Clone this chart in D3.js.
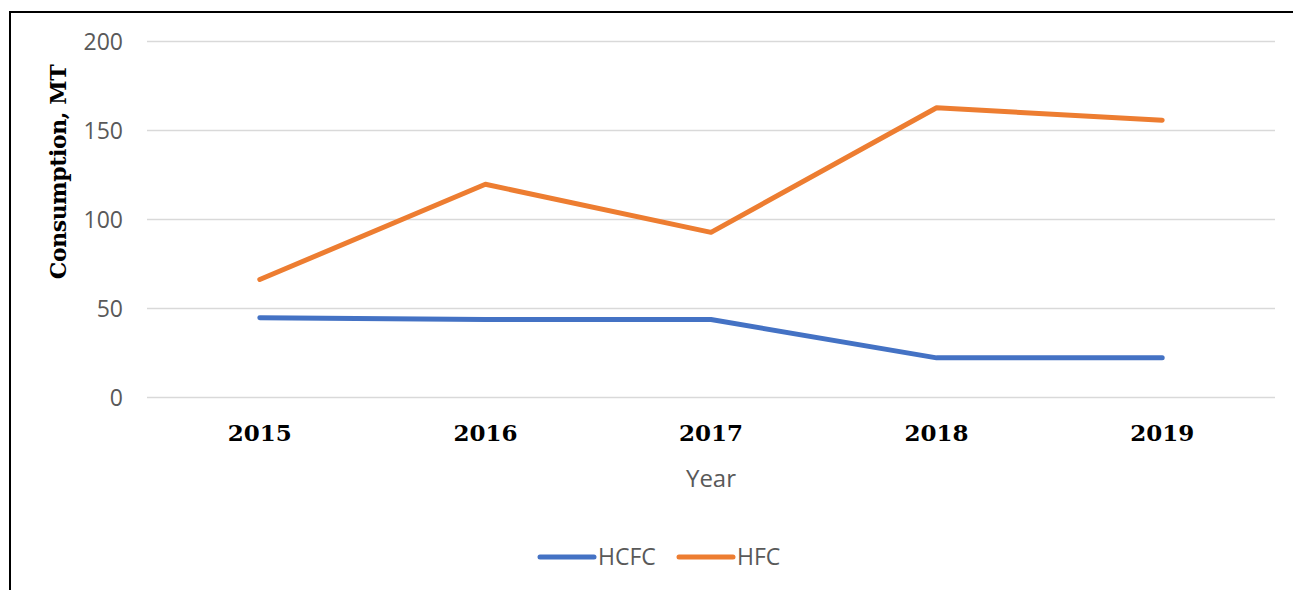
<!DOCTYPE html>
<html>
<head>
<meta charset="utf-8">
<script src="https://cdn.jsdelivr.net/npm/d3@7"></script>
<style>
  body { margin: 0; background: #fff; }
  svg { display: block; }
</style>
</head>
<body>
<div id="chart"></div>
<script>
var years = ["2015", "2016", "2017", "2018", "2019"];
var hcfc = [44.5, 43.5, 43.5, 22, 22];
var hfc = [66, 119.5, 92.5, 162.5, 155.5];
var yTicks = [0, 50, 100, 150, 200];
var seriesNames = ["HCFC", "HFC"];
var seriesColors = ["#4472C4", "#ED7D31"];

var chartWidth = 1293, chartHeight = 590;
var plotLeft = 147, plotRight = 1275, plotTop = 41, plotBottom = 397;

var svg = d3.select("#chart").append("svg")
  .attr("width", chartWidth)
  .attr("height", chartHeight);

// outer frame (only top and left edges show in the picture)
svg.append("rect")
  .attr("x", 10).attr("y", 12)
  .attr("width", 1300).attr("height", 600)
  .attr("fill", "none")
  .attr("stroke", "#000")
  .attr("stroke-width", 2);

var x = d3.scaleBand().domain(years).range([plotLeft, plotRight]);
var y = d3.scaleLinear().domain([0, 200]).range([plotBottom, plotTop]);

// gridlines + y labels
var yAxis = d3.axisLeft(y)
  .tickValues(yTicks)
  .tickSize(-(plotRight - plotLeft))
  .tickPadding(24);

var gy = svg.append("g")
  .attr("transform", "translate(" + plotLeft + ",0)")
  .call(yAxis);
gy.select(".domain").remove();
gy.selectAll(".tick line").attr("stroke", "#d9d9d9").attr("stroke-width", 1.5);
gy.selectAll(".tick text")
  .attr("fill", "#595959")
  .attr("font-family", "'Open Sans', sans-serif")
  .attr("font-size", 23)
  .attr("dy", "0.36em");

// x labels
var xAxis = d3.axisBottom(x).tickSize(0).tickPadding(0);
var gx = svg.append("g")
  .attr("transform", "translate(0," + plotBottom + ")")
  .call(xAxis);
gx.select(".domain").remove();
gx.selectAll(".tick text")
  .attr("fill", "#000")
  .attr("font-family", "'DejaVu Serif', serif")
  .attr("font-weight", "bold")
  .attr("font-size", 23)
  .attr("dy", 44);

// axis titles
svg.append("text")
  .attr("x", (plotLeft + plotRight) / 2)
  .attr("y", 487)
  .attr("text-anchor", "middle")
  .attr("fill", "#595959")
  .attr("font-family", "'Open Sans', sans-serif")
  .attr("font-size", 24)
  .text("Year");

svg.append("text")
  .attr("transform", "translate(66,172) rotate(-90)")
  .attr("text-anchor", "middle")
  .attr("fill", "#000")
  .attr("font-family", "'DejaVu Serif', serif")
  .attr("font-weight", "bold")
  .attr("font-size", 22)
  .attr("letter-spacing", -0.4)
  .text("Consumption, MT");

// lines
var line = d3.line()
  .x(function(d, i) { return x(years[i]) + x.bandwidth() / 2; })
  .y(function(d) { return y(d); });

[hcfc, hfc].forEach(function(values, i) {
  svg.append("path")
    .datum(values)
    .attr("d", line)
    .attr("fill", "none")
    .attr("stroke", seriesColors[i])
    .attr("stroke-width", 5)
    .attr("stroke-linecap", "round")
    .attr("stroke-linejoin", "round");
});

// legend
var legendX = [540, 679];
seriesNames.forEach(function(name, i) {
  var g = svg.append("g").attr("transform", "translate(" + legendX[i] + ",557)");
  g.append("line")
    .attr("x1", 0).attr("x2", 54)
    .attr("stroke", seriesColors[i])
    .attr("stroke-width", 5)
    .attr("stroke-linecap", "round");
  g.append("text")
    .attr("x", 58)
    .attr("y", 8)
    .attr("fill", "#595959")
    .attr("font-family", "'Open Sans', sans-serif")
    .attr("font-size", 23)
    .text(name);
});
</script>
</body>
</html>
